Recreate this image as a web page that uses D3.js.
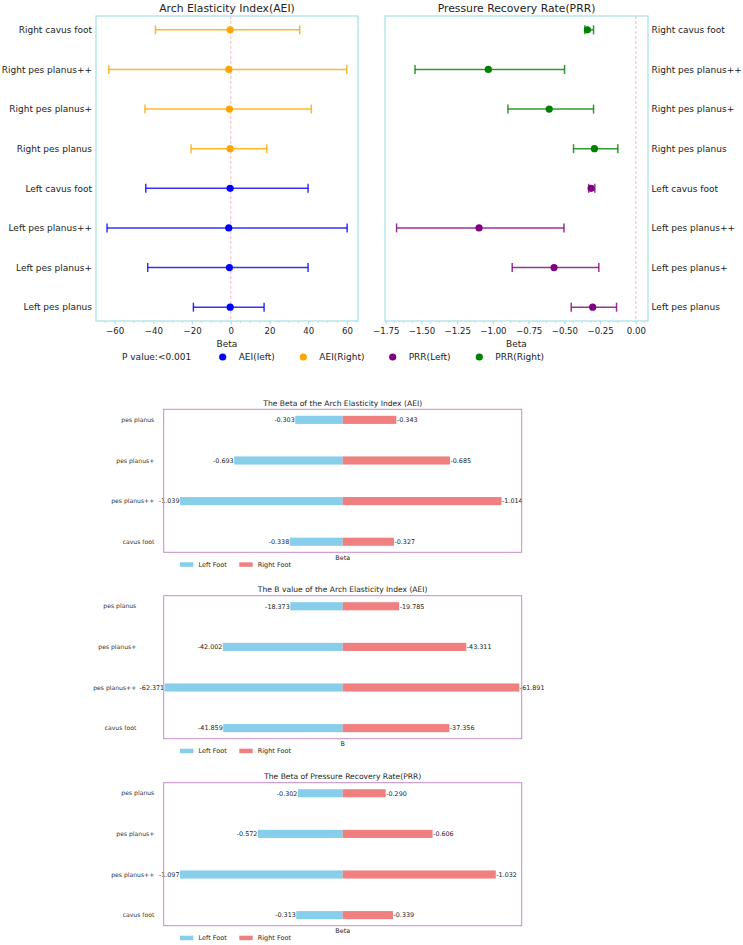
<!DOCTYPE html>
<html>
<head>
<meta charset="utf-8">
<script src="https://cdn.jsdelivr.net/npm/d3@7"></script>
<style>
  body { margin: 0; background: #fff; }
  svg text { font-family: "DejaVu Sans", sans-serif; fill: #222; }
</style>
</head>
<body>
<svg id="chart"></svg>
<script>
// forest plot rows, top to bottom
var rows = ["Right cavus foot", "Right pes planus++", "Right pes planus+", "Right pes planus",
            "Left cavus foot", "Left pes planus++", "Left pes planus+", "Left pes planus"];
var side = ["R", "R", "R", "R", "L", "L", "L", "L"];

var aeiBeta = [-0.327, -1.014, -0.685, -0.343, -0.338, -1.039, -0.693, -0.303];
var aeiLow  = [-38.9, -63.0, -44.3, -20.5, -43.9, -63.9, -42.9, -19.3];
var aeiHigh = [35.6, 59.9, 41.6, 18.6, 39.9, 60.1, 39.9, 17.2];

var prrBeta = [-0.339, -1.032, -0.606, -0.290, -0.313, -1.097, -0.572, -0.302];
var prrLow  = [-0.357, -1.545, -0.895, -0.436, -0.330, -1.674, -0.865, -0.452];
var prrHigh = [-0.296, -0.499, -0.296, -0.126, -0.287, -0.503, -0.259, -0.135];

var aeiTicks = [-60, -40, -20, 0, 20, 40, 60];
var prrTicks = [-1.75, -1.5, -1.25, -1, -0.75, -0.5, -0.25, 0];

// bar charts
var groups = ["pes planus", "pes planus+", "pes planus++", "cavus foot"];
var aeiBetaLeft  = [-0.303, -0.693, -1.039, -0.338];
var aeiBetaRight = [-0.343, -0.685, -1.014, -0.327];
var aeiBLeft  = [-18.373, -42.002, -62.371, -41.859];
var aeiBRight = [-19.785, -43.311, -61.891, -37.356];
var prrBetaLeft  = [-0.302, -0.572, -1.097, -0.313];
var prrBetaRight = [-0.290, -0.606, -1.032, -0.339];

var width = 743, height = 945;
var svg = d3.select("#chart").attr("width", width).attr("height", height);

var frameCol = "#a9e0e4";

function forest(opt) {
    var x = d3.scaleLinear().domain(opt.domain).range([opt.x0, opt.x1]);
    var y = d3.scalePoint().domain(rows).range([16, 321]).padding(0.35);
    var g = svg.append("g");

    // minor ticks
    var minor = d3.range(Math.ceil(opt.domain[0] / opt.minor), Math.floor(opt.domain[1] / opt.minor) + 1)
        .map(function(k) { return k * opt.minor; });
    g.selectAll(".minor").data(minor).enter().append("line")
        .attr("x1", d => x(d)).attr("x2", d => x(d))
        .attr("y1", 321).attr("y2", 323)
        .attr("stroke", frameCol).attr("stroke-width", 0.8);

    var axis = g.append("g")
        .attr("transform", "translate(0,321)")
        .call(d3.axisBottom(x).tickValues(opt.ticks).tickFormat(opt.fmt).tickSize(3.5).tickPadding(3));
    axis.select(".domain").remove();
    axis.selectAll(".tick line").attr("stroke", frameCol);
    axis.selectAll(".tick text").attr("font-size", 8.6).style("fill", "#222");

    g.append("rect")
        .attr("x", opt.x0).attr("y", 16)
        .attr("width", opt.x1 - opt.x0).attr("height", 305)
        .attr("fill", "none").attr("stroke", frameCol).attr("stroke-width", 1.2);

    g.append("line")
        .attr("x1", x(0)).attr("x2", x(0)).attr("y1", 16).attr("y2", 321)
        .attr("stroke", "#f7b5c0").attr("stroke-dasharray", "3,2").attr("stroke-width", 1);

    var idx = d3.range(rows.length);
    var col = function(i) { return side[i] === "R" ? opt.colR : opt.colL; };

    g.selectAll(".ci").data(idx).enter().append("line")
        .attr("x1", i => x(opt.low[i])).attr("x2", i => x(opt.high[i]))
        .attr("y1", i => y(rows[i])).attr("y2", i => y(rows[i]))
        .attr("stroke", col).attr("stroke-width", 1.5).attr("stroke-opacity", 0.8);
    ["low", "high"].forEach(function(k) {
        g.selectAll(".cap" + k).data(idx).enter().append("line")
            .attr("x1", i => x(opt[k][i])).attr("x2", i => x(opt[k][i]))
            .attr("y1", i => y(rows[i]) - 4.5).attr("y2", i => y(rows[i]) + 4.5)
            .attr("stroke", col).attr("stroke-width", 1.5).attr("stroke-opacity", 0.8);
    });
    g.selectAll(".pt").data(idx).enter().append("circle")
        .attr("cx", i => x(opt.beta[i])).attr("cy", i => y(rows[i]))
        .attr("r", 3.6).attr("fill", col);

    g.selectAll(".lab").data(rows).enter().append("text")
        .attr("x", opt.labelRight ? opt.x1 + 3.5 : opt.x0 - 4)
        .attr("y", d => y(d) + 3.3)
        .attr("text-anchor", opt.labelRight ? "start" : "end")
        .attr("font-size", 9)
        .text(d => d);

    g.append("text").attr("x", (opt.x0 + opt.x1) / 2).attr("y", 11.5)
        .attr("text-anchor", "middle").attr("font-size", 10.8).text(opt.title);
    g.append("text").attr("x", (opt.x0 + opt.x1) / 2).attr("y", 346.5)
        .attr("text-anchor", "middle").attr("font-size", 9).text("Beta");
}

forest({
    x0: 96, x1: 358, domain: [-69.6, 65.7], ticks: aeiTicks, minor: 5,
    fmt: d3.format("d"), beta: aeiBeta, low: aeiLow, high: aeiHigh,
    colL: "blue", colR: "orange", labelRight: false, title: "Arch Elasticity Index(AEI)"
});
forest({
    x0: 385, x1: 648, domain: [-1.755, 0.085], ticks: prrTicks, minor: 0.0625,
    fmt: d3.format(".2f"), beta: prrBeta, low: prrLow, high: prrHigh,
    colL: "purple", colR: "green", labelRight: true, title: "Pressure Recovery Rate(PRR)"
});

// legend row
var legY = 357;
svg.append("text").attr("x", 122).attr("y", legY + 3.3).attr("font-size", 9).text("P value:<0.001");
var legItems = [
    { c: "blue", t: "AEI(left)", x: 222.7 },
    { c: "orange", t: "AEI(Right)", x: 303.3 },
    { c: "purple", t: "PRR(Left)", x: 392.7 },
    { c: "green", t: "PRR(Right)", x: 479.3 }
];
var leg = svg.selectAll(".leg").data(legItems).enter().append("g");
leg.append("circle").attr("cx", d => d.x).attr("cy", legY).attr("r", 3.6).attr("fill", d => d.c);
leg.append("text").attr("x", d => d.x + 16).attr("y", legY + 3.3).attr("font-size", 9).text(d => d.t);

// mirrored bar charts
var barFrame = "#c48cc8";

function mirror(opt) {
    var x = d3.scaleLinear().domain([-opt.lim, opt.lim]).range([163.7, 521.7]);
    var y = d3.scalePoint().domain(groups).range([opt.top, opt.top + 143]).padding(0.26);
    var bh = y.step() * 0.2;
    var g = svg.append("g");

    g.selectAll(".bl").data(groups).enter().append("rect")
        .attr("x", (d, i) => x(opt.left[i])).attr("y", d => y(d) - bh / 2)
        .attr("width", (d, i) => x(0) - x(opt.left[i])).attr("height", bh)
        .attr("fill", "skyblue");
    g.selectAll(".br").data(groups).enter().append("rect")
        .attr("x", x(0)).attr("y", d => y(d) - bh / 2)
        .attr("width", (d, i) => x(-opt.right[i]) - x(0)).attr("height", bh)
        .attr("fill", "lightcoral");

    g.selectAll(".vl").data(groups).enter().append("text")
        .attr("x", (d, i) => x(opt.left[i]) - 0.5).attr("y", d => y(d) + 2.3)
        .attr("text-anchor", "end").attr("font-size", 6.4).text((d, i) => opt.left[i].toFixed(3));
    g.selectAll(".vr").data(groups).enter().append("text")
        .attr("x", (d, i) => x(-opt.right[i]) + 0.5).attr("y", d => y(d) + 2.3)
        .attr("text-anchor", "start").attr("font-size", 6.4).text((d, i) => opt.right[i].toFixed(3));

    g.selectAll(".cat").data(groups).enter().append("text")
        .attr("x", opt.labX).attr("y", d => y(d) + 2.2)
        .attr("text-anchor", "end").attr("font-size", 6.1).style("fill", "#333").text(d => d);

    g.append("rect").attr("x", 163.7).attr("y", opt.top).attr("width", 358).attr("height", 143)
        .attr("fill", "none").attr("stroke", barFrame).attr("stroke-width", 1);

    g.append("text").attr("x", 342.7).attr("y", opt.top - 3.3)
        .attr("text-anchor", "middle").attr("font-size", 7.6).text(opt.title);
    g.append("text").attr("x", 342.7).attr("y", opt.top + 150.5)
        .attr("text-anchor", "middle").attr("font-size", 6.4).text(opt.xlab);

    var ly = opt.top + 155;
    [{ c: "skyblue", t: "Left Foot", x: 180 }, { c: "lightcoral", t: "Right Foot", x: 239.3 }].forEach(function(d) {
        g.append("rect").attr("x", d.x).attr("y", ly - 2).attr("width", 13.4).attr("height", 4.5).attr("fill", d.c);
        g.append("text").attr("x", d.x + 18.5).attr("y", ly + 2.3).attr("font-size", 6.5).text(d.t);
    });
}

mirror({ top: 409.3, lim: 1.039 * 1.1, left: aeiBetaLeft, right: aeiBetaRight, labX: 154.3,
         title: "The Beta of the Arch Elasticity Index (AEI)", xlab: "Beta" });
mirror({ top: 595.7, lim: 62.72, left: aeiBLeft, right: aeiBRight, labX: 136.3,
         title: "The B value of the Arch Elasticity Index (AEI)", xlab: "B" });
mirror({ top: 782.7, lim: 1.097 * 1.1, left: prrBetaLeft, right: prrBetaRight, labX: 154.3,
         title: "The Beta of Pressure Recovery Rate(PRR)", xlab: "Beta" });
</script>
</body>
</html>
